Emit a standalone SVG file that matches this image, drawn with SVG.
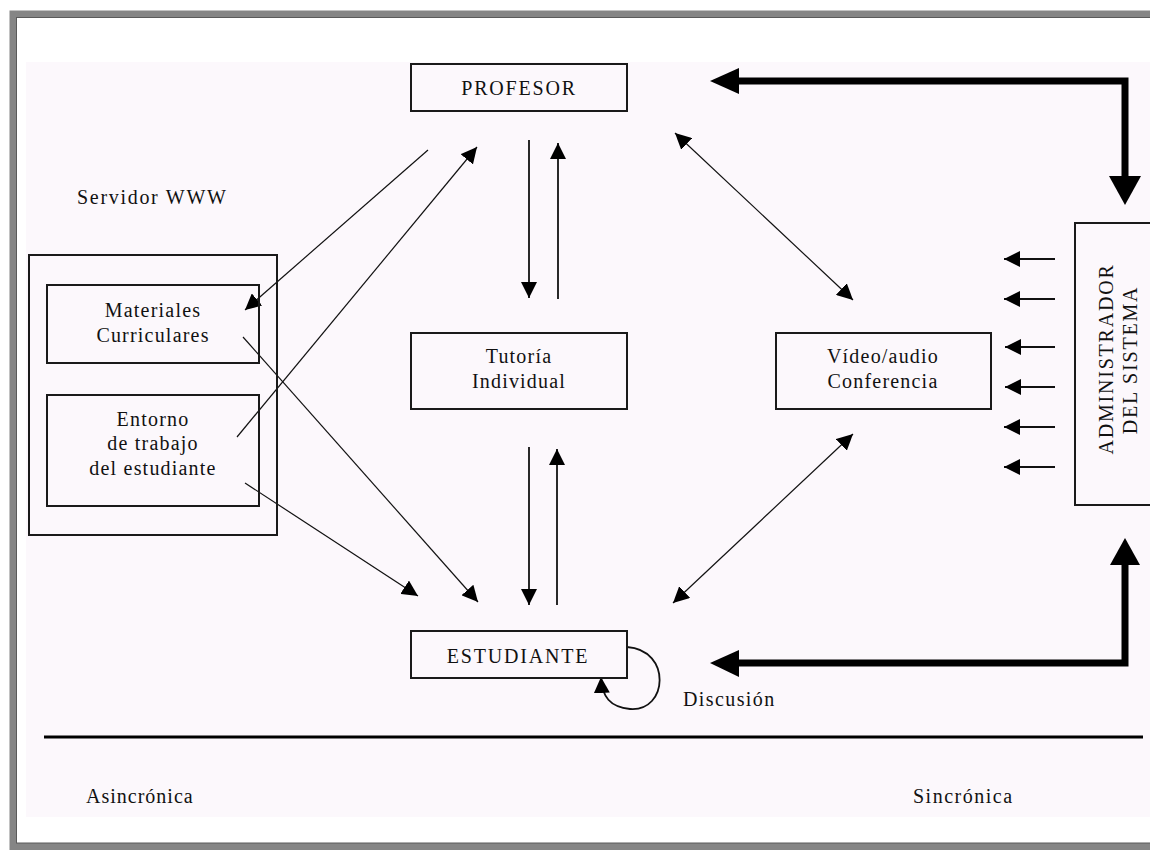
<svg xmlns="http://www.w3.org/2000/svg" width="1150" height="853" viewBox="0 0 1150 853">
<style>
.box{fill:none;stroke:#1a1a1a;stroke-width:2}
.t{font-family:"Liberation Serif","Times New Roman",serif;font-size:20px;fill:#111;text-anchor:middle;letter-spacing:1.2px}
.caps{letter-spacing:1.8px}
.thin{fill:none;stroke:#111;stroke-width:1.2}
.v{fill:none;stroke:#111;stroke-width:1.8}
.thick{fill:none;stroke:#000;stroke-width:7;stroke-linejoin:miter}
.head{fill:#000}
</style>
<defs>
<marker id="ah" viewBox="0 0 16 16" refX="16" refY="8" markerWidth="16" markerHeight="16" markerUnits="userSpaceOnUse" orient="auto-start-reverse">
<path d="M0,0 L16,8 L0,16 z" fill="#000"/>
</marker>
</defs>
<rect x="0" y="0" width="1150" height="853" fill="#ffffff"/>
<rect x="26" y="62" width="1124" height="755" fill="#fcf8fc"/>
<rect x="13" y="14" width="1160" height="832.5" fill="none" stroke="#858585" stroke-width="7"/>
<rect x="16.5" y="17.5" width="1160" height="825.5" fill="none" stroke="#5a5a5a" stroke-width="1"/>

<g id="connectors">
<path class="v" d="M529 140 L529 298" marker-end="url(#ah)"/>
<path class="v" d="M558 299 L558 143" marker-end="url(#ah)"/>
<path class="v" d="M529 447 L529 605" marker-end="url(#ah)"/>
<path class="v" d="M557 605 L557 449" marker-end="url(#ah)"/>
<path class="thin" d="M428 150 L245 310" marker-end="url(#ah)"/>
<path class="thin" d="M237 437 L477 147" marker-end="url(#ah)"/>
<path class="thin" d="M243 337 L478 602" marker-end="url(#ah)"/>
<path class="thin" d="M245 483 L418 596" marker-end="url(#ah)"/>
<path class="thin" d="M675 133 L853 300" marker-start="url(#ah)" marker-end="url(#ah)"/>
<path class="thin" d="M853 434 L673 603" marker-start="url(#ah)" marker-end="url(#ah)"/>
<path class="v" d="M1055 259 L1004 259" marker-end="url(#ah)"/>
<path class="v" d="M1055 299 L1004 299" marker-end="url(#ah)"/>
<path class="v" d="M1055 347 L1005 347" marker-end="url(#ah)"/>
<path class="v" d="M1055 387 L1005 387" marker-end="url(#ah)"/>
<path class="v" d="M1055 427 L1004 427" marker-end="url(#ah)"/>
<path class="v" d="M1055 467 L1004 467" marker-end="url(#ah)"/>
<path class="v" d="M627 647 C672 650 668 712 630 709 C610 707 602 697 601 677" marker-end="url(#ah)"/>
<path class="thick" d="M738 81 H1125 V178"/>
<polygon class="head" points="710,81 739,68 739,94"/>
<polygon class="head" points="1125,205 1109,176 1141,176"/>
<path class="thick" d="M738 663 H1125 V563"/>
<polygon class="head" points="710,663 739,650 739,677"/>
<polygon class="head" points="1125,538 1110,565 1140,565"/>
</g>

<g id="profesor">
<rect class="box" x="411" y="64" width="216" height="47"/>
<text class="t caps" x="519" y="95">PROFESOR</text>
</g>
<g id="tutoria">
<rect class="box" x="411" y="333" width="216" height="76"/>
<text class="t" x="519" y="363">Tutoría</text>
<text class="t" x="519" y="388">Individual</text>
</g>
<g id="video">
<rect class="box" x="776" y="333" width="215" height="76"/>
<text class="t" x="883" y="363">Vídeo/audio</text>
<text class="t" x="883" y="388">Conferencia</text>
</g>
<g id="estudiante">
<rect class="box" x="411" y="631" width="216" height="47"/>
<text class="t caps" x="518" y="663">ESTUDIANTE</text>
</g>
<g id="administrador">
<rect class="box" x="1075" y="223" width="90" height="282"/>
<text class="t caps" transform="translate(1113 359) rotate(-90)">ADMINISTRADOR</text>
<text class="t caps" transform="translate(1137 360) rotate(-90)">DEL SISTEMA</text>
</g>
<g id="servidor">
<text class="t" x="77" y="204" style="text-anchor:start;letter-spacing:1.7px">Servidor WWW</text>
<rect class="box" x="29" y="255" width="248" height="280"/>
</g>
<g id="materiales">
<rect class="box" x="47" y="285" width="212" height="78"/>
<text class="t" x="153" y="317">Materiales</text>
<text class="t" x="153" y="342">Curriculares</text>
</g>
<g id="entorno">
<rect class="box" x="47" y="395" width="212" height="111"/>
<text class="t" x="153" y="426">Entorno</text>
<text class="t" x="153" y="450">de trabajo</text>
<text class="t" x="153" y="475">del estudiante</text>
</g>
<g id="discusion">
<text class="t" x="683" y="706" style="text-anchor:start;letter-spacing:1.4px">Discusión</text>
</g>
<g id="divisor">
<path d="M44 737 H1143" stroke="#000" stroke-width="3"/>
<text class="t" x="86" y="803" style="text-anchor:start;letter-spacing:1px">Asincrónica</text>
<text class="t" x="913" y="803" style="text-anchor:start;letter-spacing:1.5px">Sincrónica</text>
</g>
</svg>
